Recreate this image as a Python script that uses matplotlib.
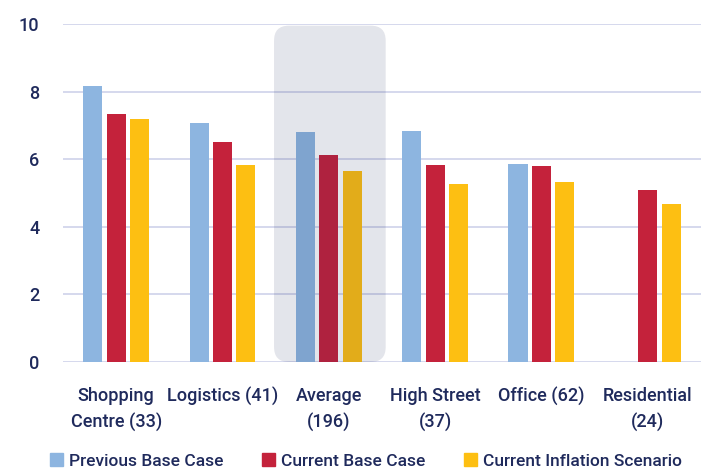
import matplotlib
matplotlib.use('Agg')
import matplotlib.pyplot as plt
from matplotlib.patches import FancyBboxPatch, Patch
import numpy as np

categories = ['Shopping\nCentre (33)', 'Logistics (41)', 'Average\n(196)',
              'High Street\n(37)', 'Office (62)', 'Residential\n(24)']
previous_base = [8.17, 7.06, 6.80, 6.84, 5.87, np.nan]
current_base = [7.35, 6.50, 6.13, 5.84, 5.79, 5.08]
current_inflation = [7.19, 5.84, 5.65, 5.28, 5.33, 4.67]
series_names = ['Previous Base Case', 'Current Base Case', 'Current Inflation Scenario']
highlight = 'Average\n(196)'

colors = ['#8db5e0', '#c4223b', '#fdbf12']
text_color = '#1f2a5c'
grid_color = '#d2d6ec'

matplotlib.rcParams.update({'font.size': 12.5})
matplotlib.rcParams.update({'font.family': ['Roboto', 'DejaVu Sans']})
matplotlib.rcParams.update({'font.weight': 'medium'})

fig = plt.figure(figsize=(7.13, 4.73), dpi=100)
ax = fig.add_axes([0.0884, 0.2347, 0.8946, 0.7146])

x = np.arange(len(categories))
width = 0.18
step = 0.22
for i, vals in enumerate([previous_base, current_base, current_inflation]):
    ax.bar(x + (i - 1) * step, vals, width, color=colors[i], zorder=2)

ax.set_xlim(-0.5, len(categories) - 0.5)
ax.set_ylim(0, 10)
ax.set_yticks([0, 2, 4, 6, 8, 10])
ax.set_xticks(x)
ax.set_xticklabels(categories, linespacing=1.55)
ax.tick_params(axis='both', length=0, colors=text_color, labelsize=13)
ax.tick_params(axis='y', pad=17)
ax.tick_params(axis='x', pad=18)
ax.grid(axis='y', color=grid_color, linewidth=1.3, zorder=1)
ax.set_axisbelow(True)
for s in ax.spines.values():
    s.set_visible(False)

# shaded rounded box over the average group
hx = categories.index(highlight)
box = FancyBboxPatch((hx - 0.515, 0), 1.05, 9.95,
                     boxstyle='round,pad=0,rounding_size=0.14',
                     mutation_aspect=3.15,
                     facecolor='#1f2a5c', alpha=0.12, edgecolor='none',
                     zorder=3, clip_on=False)
ax.add_patch(box)

handles = [Patch(color=c) for c in colors]
fig.legend(handles, series_names, loc='center', bbox_to_anchor=(366 / 713, 1 - 461 / 473),
           ncol=3, frameon=False, handlelength=0.75, handleheight=0.75,
           handletextpad=0.35, columnspacing=2.2, labelcolor=text_color)

plt.savefig('out.png', dpi=100)
